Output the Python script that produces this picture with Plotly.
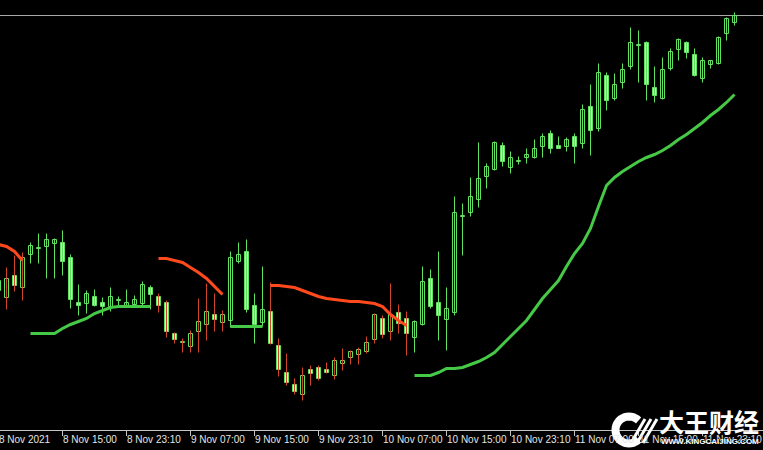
import math
import plotly.graph_objects as go

# ---------------- data ----------------
tick_index = [0, 8, 16, 24, 32, 40, 48, 56, 64, 72, 80, 88]
tick_labels = ["8 Nov 2021", "8 Nov 15:00", "8 Nov 23:10", "9 Nov 07:00",
               "9 Nov 15:00", "9 Nov 23:10", "10 Nov 07:00", "10 Nov 15:00",
               "10 Nov 23:10", "11 Nov 07:00", "11 Nov 15:00", "11 Nov 23:10"]

open_ = [1814.0,
         1813.3, 1815.5, 1814.3, 1817.6, 1818.2, 1818.4, 1818.7, 1818.8, 1817.3, 1812.8,
         1812.7, 1813.4, 1812.8, 1812.4, 1813.0, 1812.4, 1812.6, 1812.7, 1814.3, 1813.4,
         1812.8, 1809.7, 1808.8, 1808.4, 1809.9, 1810.6, 1811.6, 1810.8, 1811.0, 1816.9,
         1817.9, 1812.5, 1810.8, 1811.9, 1808.5, 1805.8, 1804.6, 1803.6, 1806.1, 1806.3,
         1806.1, 1805.5, 1806.7, 1807.3, 1807.6, 1807.9, 1809.1, 1811.2, 1809.9, 1811.8,
         1811.2, 1809.3, 1810.6, 1815.2, 1812.8, 1811.1, 1811.8, 1821.4, 1821.8, 1823.1,
         1825.4, 1826.1, 1828.5, 1826.3, 1826.9, 1827.3, 1827.3, 1828.4, 1829.7, 1828.5,
         1828.4, 1829.4, 1828.7, 1832.4, 1830.2, 1835.5, 1833.2, 1834.8, 1836.4, 1838.5,
         1838.8, 1834.3, 1833.2, 1836.2, 1838.1, 1838.8, 1837.6, 1835.2, 1836.6, 1836.7,
         1839.7, 1840.8]
high = [1816.2,
        1816.3, 1817.5, 1817.8, 1818.8, 1819.7, 1819.7, 1819.2, 1820.0, 1817.6, 1814.6,
        1814.0, 1814.1, 1813.3, 1814.3, 1813.4, 1814.1, 1813.5, 1814.9, 1814.5, 1813.7,
        1813.0, 1809.8, 1809.2, 1810.0, 1813.2, 1814.7, 1813.7, 1812.0, 1817.9, 1818.8,
        1819.1, 1813.7, 1816.4, 1814.8, 1809.2, 1807.7, 1805.2, 1806.3, 1806.5, 1806.5,
        1806.8, 1807.3, 1808.2, 1808.0, 1808.3, 1809.4, 1811.7, 1811.5, 1814.7, 1812.6,
        1811.9, 1811.0, 1816.4, 1816.1, 1817.9, 1814.3, 1823.4, 1822.7, 1825.3, 1828.8,
        1826.7, 1828.9, 1828.8, 1827.9, 1827.4, 1828.2, 1829.1, 1829.7, 1830.0, 1829.4,
        1829.3, 1829.7, 1832.6, 1834.6, 1836.7, 1835.8, 1835.7, 1836.7, 1840.3, 1840.0,
        1838.9, 1836.4, 1837.3, 1838.2, 1839.2, 1838.9, 1838.2, 1837.3, 1837.0, 1839.4,
        1841.3, 1841.8]
low = [1813.0,
       1812.1, 1813.9, 1813.0, 1816.7, 1816.7, 1815.2, 1815.2, 1815.5, 1812.2, 1811.5,
       1811.7, 1812.4, 1811.5, 1811.9, 1812.3, 1812.3, 1812.3, 1812.4, 1812.1, 1811.8,
       1809.3, 1808.7, 1807.8, 1807.8, 1807.8, 1809.0, 1809.9, 1809.9, 1810.3, 1816.7,
       1811.8, 1808.7, 1810.4, 1808.6, 1805.4, 1804.5, 1803.6, 1803.0, 1804.5, 1805.0,
       1805.7, 1805.1, 1806.0, 1806.6, 1806.6, 1807.7, 1808.7, 1809.2, 1809.0, 1809.7,
       1807.5, 1807.8, 1810.5, 1812.2, 1809.0, 1808.0, 1811.5, 1817.5, 1821.4, 1822.3,
       1824.2, 1826.0, 1826.4, 1825.7, 1826.6, 1826.7, 1827.2, 1827.3, 1827.7, 1828.2,
       1827.9, 1826.7, 1828.2, 1827.5, 1829.9, 1832.0, 1833.0, 1834.2, 1836.1, 1834.8,
       1833.0, 1832.8, 1833.1, 1836.0, 1837.0, 1837.2, 1835.4, 1834.8, 1836.2, 1836.6,
       1839.0, 1840.5]
close = [1815.0,
         1815.2, 1814.5, 1817.3, 1818.5, 1818.2, 1819.1, 1819.1, 1816.9, 1813.1, 1812.5,
         1813.7, 1812.5, 1812.4, 1813.4, 1813.0, 1812.8, 1813.1, 1814.6, 1813.6, 1812.5,
         1809.9, 1809.1, 1808.8, 1809.7, 1810.9, 1811.9, 1811.1, 1811.6, 1817.3, 1817.6,
         1812.1, 1810.6, 1812.1, 1808.7, 1806.1, 1804.8, 1803.9, 1805.5, 1805.7, 1805.2,
         1805.8, 1807.0, 1807.0, 1807.9, 1808.1, 1808.8, 1811.6, 1809.6, 1811.6, 1810.7,
         1809.7, 1810.9, 1814.9, 1812.4, 1811.5, 1812.2, 1821.8, 1821.4, 1823.4, 1825.2,
         1826.4, 1828.8, 1826.9, 1827.3, 1826.9, 1827.6, 1828.2, 1829.4, 1828.2, 1828.2,
         1829.1, 1828.4, 1832.1, 1830.0, 1835.8, 1833.0, 1834.6, 1836.1, 1838.8, 1838.5,
         1834.6, 1833.5, 1836.1, 1837.9, 1839.1, 1837.8, 1835.5, 1837.0, 1837.0, 1839.3,
         1841.2, 1841.5]
supertrend = [1818.6,
              1818.4, 1817.9, 1817.0, 1809.7, 1809.7, 1809.7, 1809.7, 1810.2, 1810.6, 1810.9,
              1811.2, 1811.7, 1812.0, 1812.3, 1812.4, 1812.4, 1812.4, 1812.4, 1812.4, 1817.2,
              1817.2, 1817.0, 1816.8, 1816.3, 1815.8, 1815.2, 1814.4, 1813.6, 1810.4, 1810.4,
              1810.4, 1810.4, 1810.4, 1814.5, 1814.5, 1814.4, 1814.3, 1814.0, 1813.7, 1813.4,
              1813.2, 1813.1, 1813.0, 1812.9, 1812.9, 1812.8, 1812.7, 1812.4, 1811.6, 1811.0,
              1810.5, 1805.5, 1805.5, 1805.5, 1805.8, 1806.2, 1806.2, 1806.3, 1806.6, 1806.9,
              1807.3, 1807.8, 1808.6, 1809.4, 1810.2, 1811.0, 1812.1, 1813.2, 1814.1, 1815.0,
              1816.4, 1817.7, 1818.7, 1820.2, 1822.4, 1824.5, 1825.3, 1825.9, 1826.4, 1826.9,
              1827.3, 1827.6, 1828.0, 1828.5, 1829.1, 1829.6, 1830.2, 1830.8, 1831.5, 1832.1,
              1832.8, 1833.6]
trend = (["down"] * 4 + ["up"] * 16 + ["down"] * 9 + ["up"] * 5
         + ["down"] * 18 + ["up"] * 41)

# ---------------- styling ----------------
W, H, PLOT_H = 763, 450, 430
X_MIN = 0.1875
X_MAX = X_MIN + W / 8.0
Y_MIN, Y_MAX = 1800.05, 1843.05

GREEN = "#5fe35f"
RED_WICK = "#d0442a"
RED_LINE = "#ff4a1e"
ST_GREEN = "#46c946"
FILL_UP = "#c9f6b9"
FILL_DN = "#f2f0b4"
AXIS = "#c4c4c4"

n = len(close)
xs = list(range(n))

fig = go.Figure()

# wicks
for tr, col in (("down", RED_WICK), ("up", GREEN)):
    wx, wy = [], []
    for i in range(n):
        if trend[i] == tr:
            wx += [i, i, None]
            wy += [low[i], high[i], None]
    fig.add_trace(go.Scatter(x=wx, y=wy, mode="lines",
                             line=dict(color=col, width=1), hoverinfo="skip"))

# bodies
MIN_H = 0.12
bases, heights, fills = [], [], []
for o, c, t in zip(open_, close, trend):
    h = abs(c - o)
    hh = max(h, MIN_H)
    bases.append(min(o, c) - (hh - h) / 2)
    heights.append(hh)
    if c >= o:
        fills.append("#000000")
    else:
        fills.append(FILL_DN if t == "down" else FILL_UP)
fig.add_trace(go.Bar(x=xs, y=heights, base=bases, width=0.5,
                     marker=dict(color=fills, line=dict(color=GREEN, width=1)),
                     hoverinfo="skip"))

# supertrend segments
for tr, col in (("down", RED_LINE), ("up", ST_GREEN)):
    sx, sy = [], []
    for i in range(n):
        if trend[i] == tr:
            if sx and trend[i - 1] != tr:
                sx.append(None)
                sy.append(None)
            sx.append(i)
            sy.append(supertrend[i])
    fig.add_trace(go.Scatter(x=sx, y=sy, mode="lines",
                             line=dict(color=col, width=3), hoverinfo="skip"))

# bid line at last close
shapes = [dict(type="line", xref="paper", x0=0, x1=1, yref="y",
               y0=close[-1], y1=close[-1], line=dict(color="#a8a8a8", width=1),
               layer="below")]

annotations = []
for i, lab in zip(tick_index, tick_labels):
    annotations.append(dict(
        x=(i - X_MIN) / (X_MAX - X_MIN), xref="paper", y=0, yref="paper",
        xanchor="left", yanchor="top", xshift=-2, yshift=-2,
        text=lab, showarrow=False,
        font=dict(family="Liberation Sans", size=10, color="#e4e4e4")))


# watermark (decoration)
def pxx(v):
    return v / W


def pxy(v):
    return (PLOT_H - v) / PLOT_H


cx, cy, r = 629.0, 430.0, 13.5
pts = []
for a in range(45, 316, 9):
    ang = math.radians(a)
    pts.append((pxx(cx + r * math.cos(ang)), pxy(cy - r * math.sin(ang))))
path = "M " + " L ".join(f"{x:.5f},{y:.5f}" for x, y in pts)
shapes.append(dict(type="path", xref="paper", yref="paper", path=path,
                   line=dict(color="white", width=8), layer="above"))
for dx in (0, 6, 12):
    shapes.append(dict(type="line", xref="paper", yref="paper",
                       x0=pxx(631 + dx), y0=pxy(443), x1=pxx(645 + dx), y1=pxy(419),
                       line=dict(color="white", width=3), layer="above"))
annotations.append(dict(x=pxx(709), y=pxy(421), xref="paper", yref="paper",
                        xanchor="center", yanchor="middle", showarrow=False,
                        text="<b>大王财经</b>",
                        font=dict(family="Noto Sans CJK SC", size=25, color="white")))
annotations.append(dict(x=pxx(710), y=pxy(442), xref="paper", yref="paper",
                        xanchor="center", yanchor="middle", showarrow=False,
                        text="<b>WWW.KINGCAIJING.COM</b>",
                        font=dict(family="Liberation Sans", size=8, color="white",
                                  shadow="0px 0px 2px #000")))

fig.update_layout(
    width=W, height=H,
    margin=dict(l=0, r=0, t=0, b=H - PLOT_H, pad=0),
    paper_bgcolor="black", plot_bgcolor="black",
    showlegend=False, barmode="overlay", bargap=0,
    xaxis=dict(range=[X_MIN, X_MAX], showgrid=False, zeroline=False,
               showline=True, linecolor=AXIS, linewidth=1,
               ticks="outside", ticklen=5, tickwidth=1, tickcolor=AXIS,
               tickmode="array", tickvals=tick_index, showticklabels=False,
               fixedrange=True),
    yaxis=dict(range=[Y_MIN, Y_MAX], visible=False, fixedrange=True),
    shapes=shapes, annotations=annotations,
)

fig.write_html(
    "out.html",
    config={"displayModeBar": False},
    post_script="document.body.style.margin='0';document.body.style.background='black';",
)
